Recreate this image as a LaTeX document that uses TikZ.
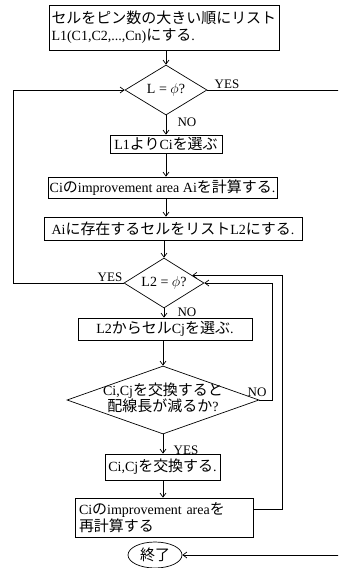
\documentclass[tikz,border=0pt]{standalone}
\usepackage{fontspec}
\setmainfont{Liberation Serif}
\newfontfamily\jpfont[Scale=1.07]{Noto Sans CJK JP}
\newcommand{\jp}[1]{{\jpfont #1}}
\usetikzlibrary{arrows.meta,shapes.geometric,calc}
\begin{document}
\begin{tikzpicture}[x=1pt,y=-1pt,
  font=\fontsize{14}{17}\selectfont,
  line width=0.7pt,
  box/.style={draw, rectangle, inner sep=0pt},
  dia/.style={draw, diamond, inner sep=0pt, aspect=1},
  term/.style={draw, ellipse, inner sep=0pt},
  arr/.style={-{Straight Barb[length=4pt,width=6pt]}},
  lab/.style={font=\fontsize{13}{13}\selectfont, inner sep=0pt}]
\clip (0,0) rectangle (338,568);
\fill[white] (0,0) rectangle (338,568);

% coordinates for loop lines
\coordinate (lx) at (13,0);
\coordinate (rx) at (340,0);
\coordinate (ix) at (272,0);
\coordinate (ox) at (282,0);

% nodes
\node[box, minimum width=230pt, minimum height=45pt, text width=225pt, align=left] (b1) at (164,27.5)
  {\jp{セルをピン数の大きい順にリスト}\\L1(C1,C2,...,Cn)\jp{にする}.};
\node[dia, minimum width=82pt, minimum height=50pt] (d1) at (166,90)
  {\makebox[0pt]{L = $\phi$?}};
\node[box, minimum width=112pt, minimum height=18pt] (b2) at (166,144)
  {L1\jp{より}Ci\jp{を選ぶ}};
\node[box, minimum width=229pt, minimum height=21pt] (b3) at (162.5,187.5)
  {Ci\jp{の}improvement area Ai\jp{を計算する}.};
\node[box, minimum width=258pt, minimum height=23pt] (b4) at (173,228.5)
  {Ai\jp{に存在するセルをリスト}L2\jp{にする}.};
\node[dia, minimum width=80pt, minimum height=50pt] (d2) at (164,283)
  {\makebox[0pt]{L2 = $\phi$?}};
\node[box, minimum width=174pt, minimum height=22pt] (b5) at (165,329)
  {L2\jp{からセル}Cj\jp{を選ぶ}.};
\node[dia, minimum width=192pt, minimum height=68pt] (d3) at (163,400)
  {\makebox[0pt]{\begin{tabular}{@{}c@{}}Ci,Cj\jp{を交換すると}\\[-2pt]\jp{配線長が減るか}?\end{tabular}}};
\node[box, minimum width=115pt, minimum height=26pt] (b6) at (162.5,467)
  {Ci,Cj\jp{を交換する}.};
\node[box, minimum width=178pt, minimum height=39pt, text width=170pt, align=left] (b7) at (164,517.5)
  {Ci\jp{の}improvement area\jp{を}\\\jp{再計算する}};
\node[term, minimum width=54pt, minimum height=26pt] (end) at (155,555)
  {\jp{終了}};

% labels
\node[lab] (yes1) at (227,84) {YES};
\node[lab] (no1) at (187,122) {NO};
\node[lab] (yes2) at (110,277) {YES};
\node[lab] (no2) at (187,312) {NO};
\node[lab] (no3) at (257,392) {NO};
\node[lab] (yes3) at (186,450) {YES};

% main spine
\draw[arr] (b1.south -| d1.north) -- (d1.north);
\draw[arr] (d1.south) -- (d1.south |- b2.north);
\draw[arr] (b2.south) -- (b2.south |- b3.north);
\draw[arr] (b3.south -| b2.south) -- (b4.north -| b2.south);
\draw[arr] (b4.south -| d2.north) -- (d2.north);
\draw[arr] (d2.south) -- (d2.south |- b5.north);
\draw[arr] (b5.south -| d3.north) -- (d3.north);
\draw[arr] (d3.south) -- (d3.south |- b6.north);
\draw[arr] (b6.south -| d3.south) -- (b7.north -| d3.south);

% loops
\draw[arr] (d2.west) -- (d2.west -| lx) |- (d1.west);
\draw[arr] (d1.east) -- (d1.east -| rx) |- (end.east);
\draw[arr] (d3.east) -- (d3.east -| ix) |- (d2.east);
\coordinate (d2ur) at ($(d2.north)!0.7!(d2.east)$);
\draw[arr] ([yshift=8pt]b7.east) -- ([yshift=8pt]b7.east -| ox) |- (d2ur);
\end{tikzpicture}
\end{document}
